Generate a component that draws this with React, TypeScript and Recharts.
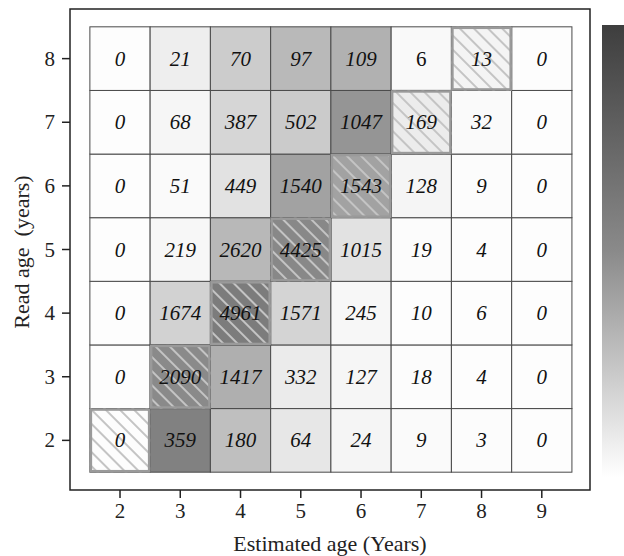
import { ScatterChart, XAxis, YAxis, ReferenceArea } from 'recharts'

const estAges = [2, 3, 4, 5, 6, 7, 8, 9]
const readAges = [2, 3, 4, 5, 6, 7, 8]

// counts per read age (row), across estimated ages 2..9
const row2 = [0, 359, 180, 64, 24, 9, 3, 0]
const row3 = [0, 2090, 1417, 332, 127, 18, 4, 0]
const row4 = [0, 1674, 4961, 1571, 245, 10, 6, 0]
const row5 = [0, 219, 2620, 4425, 1015, 19, 4, 0]
const row6 = [0, 51, 449, 1540, 1543, 128, 9, 0]
const row7 = [0, 68, 387, 502, 1047, 169, 32, 0]
const row8 = [0, 21, 70, 97, 109, 6, 13, 0]
const rows = [row2, row3, row4, row5, row6, row7, row8]

// the one label printed upright in the source
const uprightLabels = ['8-7']

const FONT = '"Liberation Serif", "DejaVu Serif", serif'

type Cell = { x: number; y: number; n: number; p: number; diag: boolean }

const cells: Cell[] = []
rows.forEach((r, i) => {
  const total = r.reduce((a, b) => a + b, 0)
  r.forEach((n, j) => {
    cells.push({ x: estAges[j], y: readAges[i], n, p: total > 0 ? n / total : 0, diag: estAges[j] === readAges[i] })
  })
})
// hatched diagonal cells drawn last so their borders sit on top
const ordered = [...cells.filter((c) => !c.diag), ...cells.filter((c) => c.diag)]

function shade(p: number) {
  const g = Math.round(253 - p * 220)
  return `rgb(${g},${g},${g})`
}

function CellShape(props: any) {
  const { x, y, width, height, cell } = props
  const c: Cell = cell
  const upright = uprightLabels.includes(`${c.y}-${c.x}`)
  return (
    <g>
      <rect x={x} y={y} width={width} height={height} fill={shade(c.p)} stroke="#4a4a4a" strokeWidth={1} />
      {c.diag && (
        <>
          <rect x={x} y={y} width={width} height={height} fill="url(#hatch)" />
          <rect x={x + 1} y={y + 1} width={width - 2} height={height - 2} fill="none" stroke="#9a9a9a" strokeWidth={2.5} />
        </>
      )}
      <text
        x={x + width / 2}
        y={y + height / 2}
        textAnchor="middle"
        dominantBaseline="central"
        fontFamily={FONT}
        fontSize={21}
        fontStyle={upright ? 'normal' : 'italic'}
        fill="#111"
      >
        {c.n}
      </text>
    </g>
  )
}

function XTick(props: any) {
  const { x, y, payload } = props
  return (
    <text x={x} y={y + 9} textAnchor="middle" dominantBaseline="central" fontFamily={FONT} fontSize={21} fill="#222">
      {payload.value}
    </text>
  )
}

function YTick(props: any) {
  const { x, y, payload } = props
  return (
    <text x={x - 1} y={y} textAnchor="end" dominantBaseline="central" fontFamily={FONT} fontSize={21} fill="#222">
      {payload.value}
    </text>
  )
}

export default function App() {
  return (
    <div style={{ position: 'absolute', left: 0, top: 0, background: '#fff' }}>
      <ScatterChart width={624} height={556} margin={{ top: 9, right: 34, left: 20, bottom: 26 }}>
        <defs>
          <pattern id="hatch" width={10} height={10} patternUnits="userSpaceOnUse" patternTransform="rotate(45)">
            <line x1={0} y1={5} x2={10} y2={5} stroke="#c4c4c4" strokeWidth={2} />
          </pattern>
          <linearGradient id="bar" x1="0" y1="0" x2="0" y2="1">
            <stop offset="0%" stopColor="#3e3e3e" />
            <stop offset="50%" stopColor="#8a8a8a" />
            <stop offset="100%" stopColor="#ffffff" />
          </linearGradient>
        </defs>
        <XAxis
          type="number"
          dataKey="x"
          domain={[1.17, 9.8]}
          ticks={estAges}
          height={40}
          tickSize={8}
          tickMargin={4}
          axisLine={false}
          tickLine={{ stroke: '#222', strokeWidth: 1.5 }}
          tick={<XTick />}
          interval={0}
          allowDataOverflow
          label={{
            content: () => (
              <text x={330} y={543} textAnchor="middle" dominantBaseline="central" fontFamily={FONT} fontSize={22} fill="#222">
                Estimated age (Years)
              </text>
            ),
          }}
        />
        <YAxis
          type="number"
          dataKey="y"
          domain={[1.22, 8.78]}
          ticks={readAges}
          width={50}
          tickSize={8}
          tickMargin={6}
          axisLine={false}
          tickLine={{ stroke: '#222', strokeWidth: 1.5 }}
          tick={<YTick />}
          interval={0}
          allowDataOverflow
          label={{
            content: () => (
              <text
                x={21}
                y={252}
                transform="rotate(-90 21 252)"
                textAnchor="middle"
                dominantBaseline="central"
                fontFamily={FONT}
                fontSize={22}
                fill="#222"
              >
                {'Read age\u00a0 (years)'}
              </text>
            ),
          }}
        />
        {ordered.map((c) => (
          <ReferenceArea
            key={`${c.x}-${c.y}`}
            x1={c.x - 0.5}
            x2={c.x + 0.5}
            y1={c.y - 0.5}
            y2={c.y + 0.5}
            ifOverflow="visible"
            shape={(p: any) => <CellShape {...p} cell={c} />}
          />
        ))}
        <ReferenceArea
          x1={1.17}
          x2={9.8}
          y1={1.22}
          y2={8.78}
          ifOverflow="visible"
          fill="none"
          fillOpacity={0}
          stroke="#222"
          strokeWidth={1.5}
        />
        <rect x={602} y={25} width={24} height={452} fill="url(#bar)" />
      </ScatterChart>
    </div>
  )
}
